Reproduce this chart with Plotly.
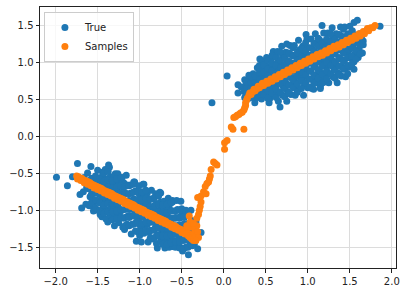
import plotly.graph_objects as go

# ---- True data (blue): lower cluster ----
true_lower = [
    # outliers / edge points
    (-1.99,-0.545),(-1.86,-0.66),(-1.74,-0.36),(-1.80,-0.54),(-1.58,-0.40),(-1.71,-0.78),
    (-1.69,-0.96),(-1.64,-0.91),(-1.37,-0.38),(-1.44,-0.48),(-1.29,-0.50),(-1.54,-0.97),
    (-1.47,-1.05),(-1.38,-1.15),(-1.18,-1.25),(-1.04,-1.41),(-0.98,-1.42),(-0.79,-1.50),
    (-0.61,-1.48),(-0.49,-1.54),(-0.42,-1.59),(-0.31,-1.51),(-0.27,-1.29),(-0.39,-0.99),
    (-0.49,-1.03),(-0.61,-0.86),(-0.75,-0.76),(-1.07,-0.61),(-0.95,-0.64),(-1.19,-0.62),
    (-1.66,-0.55),(-1.63,-0.68),(-1.67,-0.74),
    # core, layer 1
    (-1.60,-0.93),(-1.59,-0.81),(-1.61,-0.70),(-1.58,-0.59),(-1.62,-0.49),
    (-1.55,-1.00),(-1.54,-0.88),(-1.56,-0.77),(-1.53,-0.66),(-1.57,-0.56),
    (-1.50,-0.99),(-1.49,-0.87),(-1.51,-0.76),(-1.48,-0.65),(-1.52,-0.55),(-1.50,-0.45),
    (-1.45,-1.08),(-1.44,-0.96),(-1.46,-0.85),(-1.43,-0.75),(-1.47,-0.65),(-1.45,-0.54),
    (-1.40,-1.11),(-1.39,-0.99),(-1.41,-0.88),(-1.38,-0.78),(-1.42,-0.68),(-1.40,-0.57),(-1.41,-0.44),
    (-1.35,-1.07),(-1.34,-0.96),(-1.36,-0.85),(-1.33,-0.75),(-1.37,-0.65),(-1.35,-0.54),(-1.36,-0.41),
    (-1.30,-1.20),(-1.29,-1.07),(-1.31,-0.96),(-1.28,-0.86),(-1.32,-0.76),(-1.30,-0.65),(-1.31,-0.54),
    (-1.25,-1.16),(-1.24,-1.04),(-1.26,-0.93),(-1.23,-0.83),(-1.27,-0.73),(-1.25,-0.62),(-1.26,-0.50),
    (-1.20,-1.22),(-1.19,-1.10),(-1.21,-0.99),(-1.18,-0.89),(-1.22,-0.79),(-1.20,-0.68),(-1.21,-0.55),
    (-1.15,-1.18),(-1.14,-1.07),(-1.16,-0.96),(-1.13,-0.86),(-1.17,-0.76),(-1.15,-0.65),(-1.16,-0.52),
    (-1.10,-1.31),(-1.09,-1.18),(-1.11,-1.07),(-1.08,-0.97),(-1.12,-0.87),(-1.10,-0.76),(-1.11,-0.65),
    (-1.05,-1.27),(-1.04,-1.15),(-1.06,-1.04),(-1.03,-0.94),(-1.07,-0.84),(-1.05,-0.73),(-1.06,-0.61),
    (-1.00,-1.33),(-0.99,-1.21),(-1.01,-1.10),(-0.98,-1.00),(-1.02,-0.90),(-1.00,-0.79),(-1.01,-0.66),
    (-0.95,-1.30),(-0.94,-1.19),(-0.96,-1.08),(-0.93,-0.98),(-0.97,-0.88),(-0.95,-0.77),(-0.96,-0.64),
    (-0.90,-1.42),(-0.89,-1.29),(-0.91,-1.18),(-0.88,-1.08),(-0.92,-0.98),(-0.90,-0.87),(-0.91,-0.76),
    (-0.85,-1.38),(-0.84,-1.26),(-0.86,-1.15),(-0.83,-1.05),(-0.87,-0.95),(-0.85,-0.84),(-0.86,-0.72),
    (-0.80,-1.44),(-0.79,-1.32),(-0.81,-1.21),(-0.78,-1.11),(-0.82,-1.01),(-0.80,-0.90),(-0.81,-0.77),
    (-0.75,-1.41),(-0.74,-1.30),(-0.76,-1.19),(-0.73,-1.09),(-0.77,-0.99),(-0.75,-0.88),(-0.76,-0.75),
    (-0.70,-1.50),(-0.69,-1.40),(-0.71,-1.29),(-0.68,-1.19),(-0.72,-1.09),(-0.70,-0.98),(-0.71,-0.87),
    (-0.65,-1.49),(-0.64,-1.37),(-0.66,-1.26),(-0.63,-1.16),(-0.67,-1.06),(-0.65,-0.95),(-0.66,-0.83),
    (-0.60,-1.48),(-0.59,-1.40),(-0.61,-1.31),(-0.58,-1.21),(-0.62,-1.11),(-0.60,-1.00),(-0.61,-0.88),
    (-0.55,-1.48),(-0.54,-1.39),(-0.56,-1.29),(-0.53,-1.19),(-0.57,-1.09),(-0.55,-0.98),(-0.56,-0.86),
    (-0.50,-1.50),(-0.49,-1.39),(-0.51,-1.29),(-0.48,-1.19),(-0.52,-1.08),(-0.50,-0.97),(-0.51,-0.87),
    (-0.45,-1.49),(-0.44,-1.39),(-0.46,-1.29),(-0.43,-1.19),(-0.47,-1.09),(-0.45,-0.99),
    (-0.40,-1.44),(-0.39,-1.34),(-0.41,-1.24),(-0.38,-1.13),(-0.42,-1.04),
    (-0.35,-1.45),(-0.34,-1.35),(-0.36,-1.25),(-0.33,-1.15),
    # core, layer 2
    (-1.575,-0.89),(-1.575,-0.78),(-1.575,-0.67),(-1.575,-0.57),
    (-1.525,-0.96),(-1.525,-0.85),(-1.525,-0.74),(-1.525,-0.63),(-1.525,-0.53),
    (-1.475,-1.00),(-1.475,-0.89),(-1.475,-0.78),(-1.475,-0.67),(-1.475,-0.57),
    (-1.425,-1.03),(-1.425,-0.92),(-1.425,-0.81),(-1.425,-0.70),(-1.425,-0.60),(-1.425,-0.49),
    (-1.375,-1.01),(-1.375,-0.90),(-1.375,-0.79),(-1.375,-0.68),(-1.375,-0.58),(-1.375,-0.47),
    (-1.325,-1.12),(-1.325,-1.01),(-1.325,-0.90),(-1.325,-0.79),(-1.325,-0.69),(-1.325,-0.59),
    (-1.275,-1.11),(-1.275,-1.00),(-1.275,-0.89),(-1.275,-0.78),(-1.275,-0.68),(-1.275,-0.57),
    (-1.225,-1.09),(-1.225,-0.98),(-1.225,-0.87),(-1.225,-0.76),(-1.225,-0.66),(-1.225,-0.55),
    (-1.175,-1.20),(-1.175,-1.09),(-1.175,-0.98),(-1.175,-0.87),(-1.175,-0.77),(-1.175,-0.67),
    (-1.125,-1.20),(-1.125,-1.09),(-1.125,-0.98),(-1.125,-0.87),(-1.125,-0.77),(-1.125,-0.66),
    (-1.075,-1.18),(-1.075,-1.07),(-1.075,-0.96),(-1.075,-0.85),(-1.075,-0.75),(-1.075,-0.64),
    (-1.025,-1.28),(-1.025,-1.17),(-1.025,-1.06),(-1.025,-0.95),(-1.025,-0.85),(-1.025,-0.75),
    (-0.975,-1.28),(-0.975,-1.17),(-0.975,-1.06),(-0.975,-0.95),(-0.975,-0.85),(-0.975,-0.74),
    (-0.925,-1.26),(-0.925,-1.15),(-0.925,-1.04),(-0.925,-0.93),(-0.925,-0.83),(-0.925,-0.72),
    (-0.875,-1.37),(-0.875,-1.26),(-0.875,-1.15),(-0.875,-1.04),(-0.875,-0.94),(-0.875,-0.84),
    (-0.825,-1.36),(-0.825,-1.25),(-0.825,-1.14),(-0.825,-1.03),(-0.825,-0.93),(-0.825,-0.82),
    (-0.775,-1.34),(-0.775,-1.23),(-0.775,-1.12),(-0.775,-1.01),(-0.775,-0.91),(-0.775,-0.80),
    (-0.725,-1.45),(-0.725,-1.34),(-0.725,-1.23),(-0.725,-1.12),(-0.725,-1.02),(-0.725,-0.92),
    (-0.675,-1.45),(-0.675,-1.34),(-0.675,-1.23),(-0.675,-1.12),(-0.675,-1.02),(-0.675,-0.91),
    (-0.625,-1.43),(-0.625,-1.32),(-0.625,-1.21),(-0.625,-1.10),(-0.625,-1.00),(-0.625,-0.89),
    (-0.575,-1.49),(-0.575,-1.42),(-0.575,-1.31),(-0.575,-1.20),(-0.575,-1.10),(-0.575,-1.00),
    (-0.525,-1.50),(-0.525,-1.42),(-0.525,-1.31),(-0.525,-1.20),(-0.525,-1.10),(-0.525,-0.99),
    (-0.475,-1.51),(-0.475,-1.40),(-0.475,-1.29),(-0.475,-1.18),(-0.475,-1.08),
    (-0.425,-1.49),(-0.425,-1.38),(-0.425,-1.27),(-0.425,-1.17),
    (-0.375,-1.47),(-0.375,-1.36),(-0.375,-1.25),
]

# ---- True data (blue): upper cluster ----
true_upper = [
    # outliers / edge points
    (0.04,0.82),(-0.14,0.46),(0.17,0.70),(0.17,0.59),(0.37,0.46),(0.54,0.46),(0.67,0.40),
    (0.43,1.05),(1.17,1.50),(1.55,1.54),(1.59,1.57),(1.86,1.49),(1.55,0.91),(1.66,1.29),
    (1.58,1.17),(1.07,0.64),(1.15,0.68),(0.21,0.67),(0.59,1.15),(0.75,1.25),(0.98,1.38),
    # core, layer 1
    (0.25,0.53),(0.24,0.61),(0.26,0.69),(0.25,0.77),
    (0.30,0.52),(0.31,0.60),(0.29,0.68),(0.32,0.76),(0.30,0.83),
    (0.35,0.53),(0.36,0.61),(0.34,0.69),(0.37,0.77),(0.35,0.85),
    (0.40,0.53),(0.41,0.63),(0.39,0.73),(0.42,0.83),(0.40,0.93),
    (0.45,0.51),(0.46,0.61),(0.44,0.71),(0.47,0.81),(0.45,0.91),(0.46,1.02),
    (0.50,0.56),(0.51,0.66),(0.49,0.76),(0.52,0.86),(0.50,0.96),(0.51,1.07),
    (0.55,0.52),(0.56,0.63),(0.54,0.73),(0.57,0.83),(0.55,0.93),(0.56,1.04),
    (0.60,0.56),(0.61,0.67),(0.59,0.77),(0.62,0.87),(0.60,0.97),(0.61,1.09),
    (0.65,0.48),(0.66,0.60),(0.64,0.71),(0.67,0.81),(0.63,0.91),(0.65,1.02),(0.64,1.15),
    (0.70,0.56),(0.71,0.67),(0.69,0.78),(0.72,0.88),(0.68,0.98),(0.70,1.09),(0.69,1.22),
    (0.75,0.48),(0.76,0.61),(0.74,0.72),(0.77,0.82),(0.73,0.92),(0.75,1.03),(0.74,1.14),
    (0.80,0.57),(0.81,0.69),(0.79,0.80),(0.82,0.90),(0.78,1.00),(0.80,1.11),(0.79,1.23),
    (0.85,0.56),(0.86,0.68),(0.84,0.79),(0.87,0.89),(0.83,0.99),(0.85,1.10),(0.84,1.23),
    (0.90,0.64),(0.91,0.75),(0.89,0.86),(0.92,0.96),(0.88,1.06),(0.90,1.17),(0.89,1.30),
    (0.95,0.56),(0.96,0.69),(0.94,0.80),(0.97,0.90),(0.93,1.00),(0.95,1.11),(0.94,1.22),
    (1.00,0.66),(1.01,0.78),(0.99,0.89),(1.02,0.99),(0.98,1.09),(1.00,1.20),(0.99,1.32),
    (1.05,0.65),(1.06,0.77),(1.04,0.88),(1.07,0.98),(1.03,1.08),(1.05,1.19),(1.04,1.32),
    (1.10,0.73),(1.11,0.84),(1.09,0.95),(1.12,1.05),(1.08,1.15),(1.10,1.26),(1.09,1.39),
    (1.15,0.65),(1.16,0.78),(1.14,0.89),(1.17,0.99),(1.13,1.09),(1.15,1.20),(1.14,1.31),
    (1.20,0.74),(1.21,0.86),(1.19,0.97),(1.22,1.07),(1.18,1.17),(1.20,1.28),(1.19,1.40),
    (1.25,0.73),(1.26,0.85),(1.24,0.96),(1.27,1.06),(1.23,1.16),(1.25,1.27),(1.24,1.40),
    (1.30,0.81),(1.31,0.92),(1.29,1.03),(1.32,1.13),(1.28,1.23),(1.30,1.34),(1.29,1.47),
    (1.35,0.73),(1.36,0.86),(1.34,0.97),(1.37,1.07),(1.33,1.17),(1.35,1.28),(1.34,1.39),
    (1.40,0.82),(1.41,0.94),(1.39,1.05),(1.42,1.15),(1.38,1.25),(1.40,1.36),(1.39,1.48),
    (1.45,0.81),(1.46,0.93),(1.44,1.04),(1.47,1.14),(1.43,1.24),(1.45,1.35),(1.44,1.48),
    (1.50,0.94),(1.51,1.06),(1.49,1.17),(1.52,1.28),(1.48,1.39),(1.50,1.49),
    (1.55,1.01),(1.56,1.12),(1.54,1.23),(1.57,1.33),(1.53,1.43),
    (1.60,1.07),(1.61,1.18),(1.59,1.29),(1.62,1.39),
    (1.65,1.13),(1.66,1.24),(1.64,1.35),
    # core, layer 2
    (0.275,0.58),(0.275,0.66),(0.275,0.74),
    (0.325,0.57),(0.325,0.65),(0.325,0.73),(0.325,0.81),
    (0.375,0.58),(0.375,0.66),(0.375,0.74),(0.375,0.82),
    (0.425,0.57),(0.425,0.67),(0.425,0.77),(0.425,0.87),(0.425,0.96),
    (0.475,0.57),(0.475,0.67),(0.475,0.77),(0.475,0.87),(0.475,0.97),
    (0.525,0.52),(0.525,0.62),(0.525,0.72),(0.525,0.82),(0.525,0.92),(0.525,1.03),
    (0.575,0.59),(0.575,0.69),(0.575,0.79),(0.575,0.89),(0.575,0.99),(0.575,1.10),
    (0.625,0.53),(0.625,0.64),(0.625,0.75),(0.625,0.86),(0.625,0.96),(0.625,1.07),
    (0.675,0.60),(0.675,0.71),(0.675,0.82),(0.675,0.93),(0.675,1.03),(0.675,1.14),
    (0.725,0.54),(0.725,0.65),(0.725,0.76),(0.725,0.87),(0.725,0.97),(0.725,1.07),
    (0.775,0.59),(0.775,0.70),(0.775,0.81),(0.775,0.92),(0.775,1.02),(0.775,1.13),
    (0.825,0.66),(0.825,0.77),(0.825,0.88),(0.825,0.99),(0.825,1.09),(0.825,1.20),
    (0.875,0.60),(0.875,0.71),(0.875,0.82),(0.875,0.93),(0.875,1.03),(0.875,1.13),
    (0.925,0.65),(0.925,0.76),(0.925,0.87),(0.925,0.98),(0.925,1.08),(0.925,1.19),
    (0.975,0.73),(0.975,0.84),(0.975,0.95),(0.975,1.06),(0.975,1.16),(0.975,1.27),
    (1.025,0.67),(1.025,0.78),(1.025,0.89),(1.025,1.00),(1.025,1.10),(1.025,1.20),
    (1.075,0.72),(1.075,0.83),(1.075,0.94),(1.075,1.05),(1.075,1.15),(1.075,1.26),
    (1.125,0.79),(1.125,0.90),(1.125,1.01),(1.125,1.12),(1.125,1.22),(1.125,1.33),
    (1.175,0.73),(1.175,0.84),(1.175,0.95),(1.175,1.06),(1.175,1.16),(1.175,1.26),
    (1.225,0.78),(1.225,0.89),(1.225,1.00),(1.225,1.11),(1.225,1.21),(1.225,1.32),
    (1.275,0.85),(1.275,0.96),(1.275,1.07),(1.275,1.18),(1.275,1.28),(1.275,1.39),
    (1.325,0.79),(1.325,0.90),(1.325,1.01),(1.325,1.12),(1.325,1.22),(1.325,1.32),
    (1.375,0.84),(1.375,0.95),(1.375,1.06),(1.375,1.17),(1.375,1.27),(1.375,1.38),
    (1.425,0.91),(1.425,1.02),(1.425,1.13),(1.425,1.24),(1.425,1.34),(1.425,1.45),
    (1.475,0.85),(1.475,0.96),(1.475,1.07),(1.475,1.18),(1.475,1.28),(1.475,1.38),
    (1.525,0.98),(1.525,1.09),(1.525,1.20),(1.525,1.31),(1.525,1.41),
    (1.575,1.05),(1.575,1.16),(1.575,1.27),(1.575,1.37),
    (1.625,1.12),(1.625,1.23),(1.625,1.34),
]

# ---- Samples (orange) ----
samples_lower = [
    (-1.75,-0.53),(-1.73,-0.54),(-1.71,-0.56),(-1.69,-0.56),(-1.67,-0.58),(-1.65,-0.59),
    (-1.63,-0.60),(-1.61,-0.61),(-1.59,-0.62),(-1.57,-0.64),(-1.55,-0.65),(-1.53,-0.66),
    (-1.51,-0.67),(-1.49,-0.68),(-1.47,-0.69),(-1.45,-0.70),(-1.43,-0.72),(-1.41,-0.73),
    (-1.39,-0.74),(-1.37,-0.75),(-1.35,-0.76),(-1.33,-0.77),(-1.31,-0.79),(-1.29,-0.80),
    (-1.27,-0.81),(-1.25,-0.82),(-1.23,-0.83),(-1.21,-0.84),(-1.19,-0.85),(-1.17,-0.87),
    (-1.15,-0.88),(-1.13,-0.89),(-1.11,-0.90),(-1.09,-0.91),(-1.07,-0.92),(-1.05,-0.94),
    (-1.03,-0.95),(-1.01,-0.96),(-0.99,-0.97),(-0.97,-0.98),(-0.95,-0.99),(-0.93,-1.01),
    (-0.91,-1.02),(-0.89,-1.03),(-0.87,-1.04),(-0.85,-1.05),(-0.83,-1.06),(-0.81,-1.08),
    (-0.79,-1.09),(-0.77,-1.10),(-0.75,-1.11),(-0.73,-1.12),(-0.71,-1.13),(-0.69,-1.14),
    (-0.67,-1.16),(-0.65,-1.17),(-0.63,-1.18),(-0.61,-1.19),(-0.59,-1.20),(-0.57,-1.21),
    (-0.55,-1.23),(-0.53,-1.24),(-0.51,-1.25),(-0.49,-1.26),(-0.47,-1.27),(-0.45,-1.28),
    (-0.43,-1.30),(-0.41,-1.31),
    (-1.74,-0.57),(-1.70,-0.59),(-1.66,-0.62),(-1.62,-0.64),(-1.58,-0.66),(-1.54,-0.69),
    (-1.50,-0.71),(-1.46,-0.73),(-1.42,-0.76),(-1.38,-0.78),(-1.34,-0.80),(-1.30,-0.83),
    (-1.26,-0.85),(-1.22,-0.87),(-1.18,-0.90),(-1.14,-0.92),(-1.10,-0.94),(-1.06,-0.96),
    (-1.02,-0.99),(-0.98,-1.01),(-0.94,-1.03),(-0.90,-1.06),(-0.86,-1.08),(-0.82,-1.10),
    (-0.78,-1.13),(-0.74,-1.15),(-0.70,-1.17),(-0.66,-1.19),(-0.62,-1.22),(-0.58,-1.24),
    (-0.54,-1.26),(-0.50,-1.29),(-0.46,-1.31),(-0.42,-1.34),
]

samples_middle = [
    (-0.40,-1.36),(-0.38,-1.38),(-0.36,-1.40),(-0.37,-1.33),(-0.35,-1.30),(-0.33,-1.34),
    (-0.34,-1.25),(-0.32,-1.20),(-0.38,-1.22),(-0.40,-1.15),(-0.42,-1.22),(-0.44,-1.20),
    (-0.41,-1.07),(-0.36,-1.17),(-0.31,-1.28),(-0.30,-1.36),(-0.33,-1.40),
    (-0.32,-1.10),(-0.30,-1.05),(-0.29,-0.99),(-0.28,-0.94),(-0.27,-0.88),(-0.31,-0.82),
    (-0.27,-0.80),(-0.24,-0.74),(-0.21,-0.77),(-0.22,-0.67),(-0.20,-0.63),(-0.18,-0.61),
    (-0.17,-0.57),(-0.16,-0.53),(-0.15,-0.44),(-0.12,-0.34),(-0.10,-0.36),(-0.08,-0.38),
    (0.01,-0.17),(0.01,-0.08),(0.04,-0.05),(0.09,0.13),(0.11,0.10),(0.24,0.10),
    (0.12,0.26),(0.14,0.27),(0.16,0.29),(0.18,0.30),(0.20,0.32),(0.22,0.33),(0.24,0.36),
    (0.25,0.39),(0.26,0.42),(0.26,0.46),(0.27,0.49),(0.28,0.52),
]

samples_upper = [
    (0.30,0.56),(0.35,0.61),(0.40,0.65),(0.45,0.69),(0.50,0.72),(0.55,0.75),(0.60,0.78),
    (0.65,0.81),(0.70,0.84),(0.75,0.87),(0.80,0.90),(0.85,0.93),(0.90,0.96),(0.95,0.99),
    (1.00,1.02),(1.05,1.05),(1.10,1.08),(1.15,1.10),(1.20,1.13),(1.25,1.16),(1.30,1.19),
    (1.35,1.21),(1.40,1.24),(1.45,1.27),(1.50,1.30),(1.55,1.33),(1.60,1.36),(1.65,1.39),
    (1.70,1.43),(1.75,1.47),(1.80,1.50),
    (0.325,0.57),(0.375,0.62),(0.425,0.66),(0.475,0.69),(0.525,0.72),(0.575,0.75),
    (0.625,0.78),(0.675,0.81),(0.725,0.84),(0.775,0.87),(0.825,0.90),(0.875,0.93),
    (0.925,0.96),(0.975,0.99),(1.025,1.02),(1.075,1.05),(1.125,1.08),(1.175,1.10),
    (1.225,1.13),(1.275,1.16),(1.325,1.19),(1.375,1.21),(1.425,1.24),(1.475,1.27),
    (1.525,1.30),(1.575,1.33),(1.625,1.36),(1.675,1.39),(1.725,1.43),(1.775,1.47),
    (0.31,0.59),(0.36,0.64),(0.41,0.68),(0.46,0.72),(0.51,0.75),(0.56,0.78),(0.61,0.81),
    (0.66,0.84),(0.71,0.87),(0.76,0.90),(0.81,0.93),(0.86,0.96),(0.91,0.99),(0.96,1.02),
    (1.01,1.05),(1.06,1.08),(1.11,1.11),(1.16,1.13),(1.21,1.16),(1.26,1.19),(1.31,1.22),
    (1.36,1.24),(1.41,1.27),(1.46,1.30),(1.51,1.33),(1.56,1.36),(1.61,1.39),(1.66,1.42),
    (1.71,1.46),
]

x_ticks = [-2.0, -1.5, -1.0, -0.5, 0.0, 0.5, 1.0, 1.5, 2.0]
y_ticks = [-1.5, -1.0, -0.5, 0.0, 0.5, 1.0, 1.5]

true_pts = true_lower + true_upper
sample_pts = samples_lower + samples_middle + samples_upper

fig = go.Figure()
fig.add_trace(go.Scatter(
    x=[p[0] for p in true_pts], y=[p[1] for p in true_pts], mode="markers",
    name="True", marker=dict(color="#1f77b4", size=7, line=dict(width=0)),
))
fig.add_trace(go.Scatter(
    x=[p[0] for p in sample_pts], y=[p[1] for p in sample_pts], mode="markers",
    name="Samples", marker=dict(color="#ff7f0e", size=7, line=dict(width=0)),
))

axis_common = dict(
    showgrid=True, gridcolor="#dcdcdc", gridwidth=1, zeroline=False,
    showline=True, linecolor="#222222", linewidth=1, mirror=True,
    ticks="outside", ticklen=3.5, tickcolor="#222222", tickwidth=1,
    tickfont=dict(family="DejaVu Sans", size=10, color="#222222"),
    automargin=False,
)
fig.update_xaxes(range=[-2.186, 2.05], tickvals=x_ticks,
                 ticktext=[f"{v:.1f}".replace("-", "\u2212") for v in x_ticks], **axis_common)
fig.update_yaxes(range=[-1.77, 1.75], tickvals=y_ticks,
                 ticktext=[f"{v:.1f}".replace("-", "\u2212") for v in y_ticks], **axis_common)

fig.update_layout(
    width=406, height=292,
    margin=dict(l=40, r=10, t=7, b=24, autoexpand=False),
    plot_bgcolor="white", paper_bgcolor="white",
    font=dict(family="DejaVu Sans", size=10, color="#222222"),
    legend=dict(x=0.011, y=0.981, xanchor="left", yanchor="top",
                bgcolor="rgba(255,255,255,0.8)", bordercolor="#cccccc", borderwidth=1,
                font=dict(family="DejaVu Sans", size=10), itemsizing="trace",
                itemwidth=30, tracegroupgap=0),
    showlegend=True,
)

fig.write_html(
    "out.html",
    config={"displayModeBar": False},
    post_script="document.body.style.margin='0';document.body.style.padding='0';",
)
